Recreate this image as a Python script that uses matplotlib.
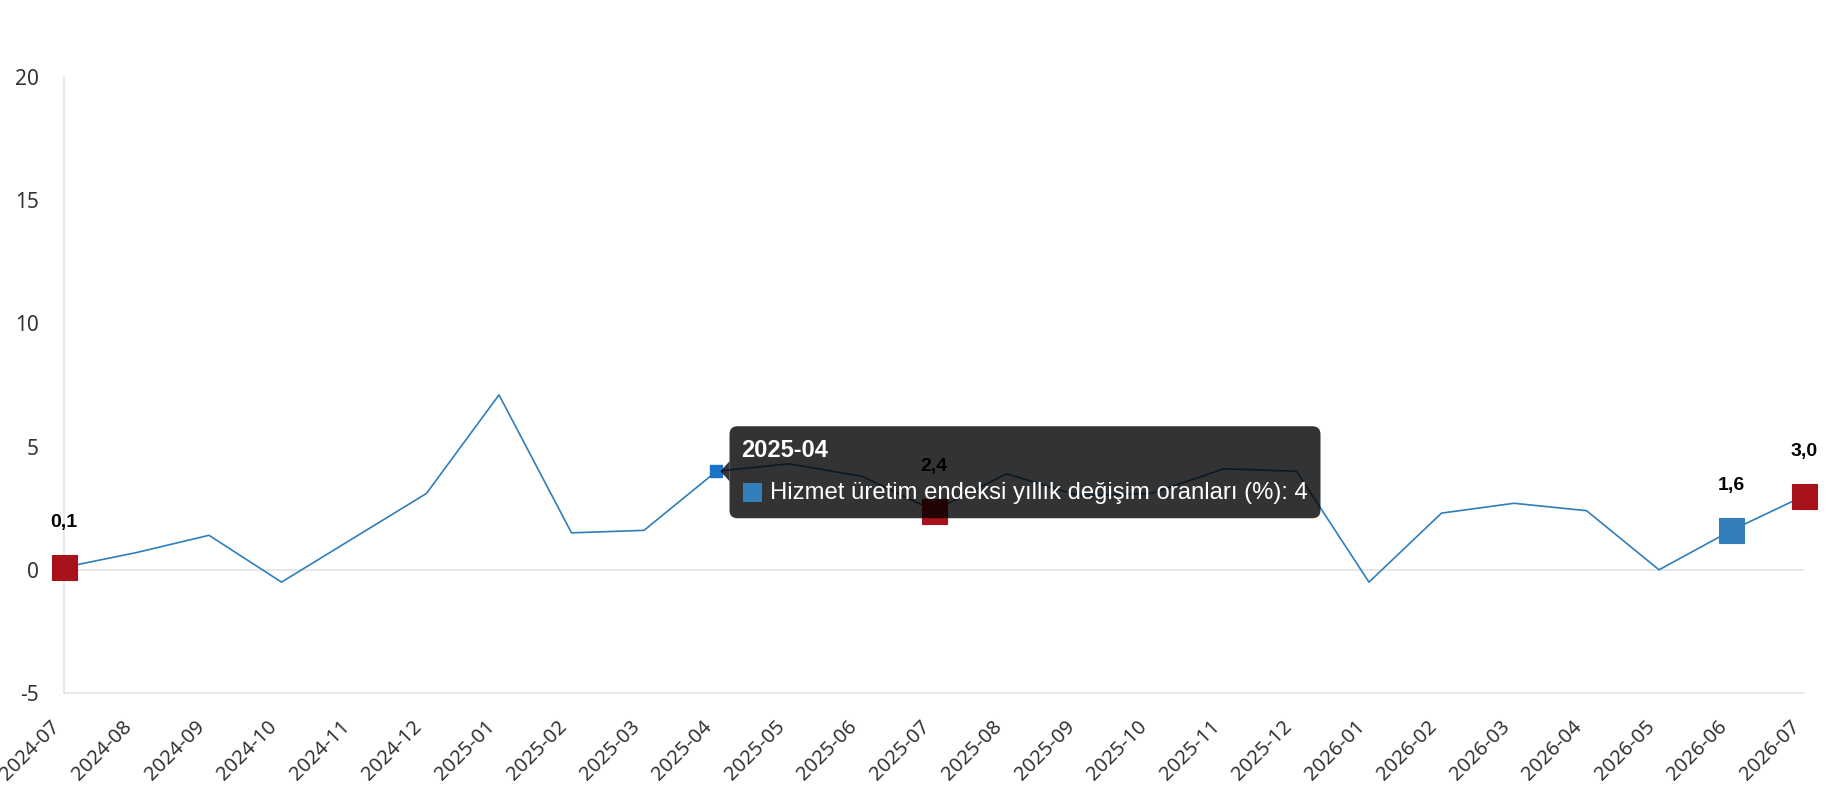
import numpy as np
import matplotlib
matplotlib.use("Agg")
from matplotlib import pyplot as plt
from matplotlib.patches import FancyBboxPatch, Polygon, Rectangle
import matplotlib.transforms as mtransforms

################################################################ data
months = ['2024-07', '2024-08', '2024-09', '2024-10', '2024-11', '2024-12',
          '2025-01', '2025-02', '2025-03', '2025-04', '2025-05', '2025-06',
          '2025-07', '2025-08', '2025-09', '2025-10', '2025-11', '2025-12',
          '2026-01', '2026-02', '2026-03', '2026-04', '2026-05', '2026-06',
          '2026-07']
values = [0.1, 0.7, 1.4, -0.5, 1.3, 3.1,
          7.1, 1.5, 1.6, 4.0, 4.3, 3.8,
          2.4, 3.9, 3.0, 3.1, 4.1, 4.0,
          -0.5, 2.3, 2.7, 2.4, 0.0, 1.6,
          3.0]
red_months = ['2024-07', '2025-07', '2026-07']
blue_months = ['2026-06']
hover_month = '2025-04'
series_name = 'Hizmet üretim endeksi yıllık değişim oranları (%)'
yticks = [-5, 0, 5, 10, 15, 20]

################################################################ figure
line_col = '#2f7ebc'
red_col = '#a8131b'
blue_col = '#337fbb'
grid_col = '#e3e3e3'

fig = plt.figure(figsize=(18.3, 8), dpi=100)
ax = fig.add_axes([64 / 1830, 1 - 693 / 800, (1804 - 64) / 1830, (693 - 77) / 800])

x = np.arange(len(months))
ax.plot(x, values, color=line_col, lw=1.2, zorder=3)

ax.set_xlim(0, len(months) - 1)
ax.set_ylim(-5, 20)
ax.axhline(0, color=grid_col, lw=1.2, zorder=1)

for s in ['top', 'right']:
    ax.spines[s].set_visible(False)
ax.spines['left'].set_color('#dfe4ea')
ax.spines['bottom'].set_color('#dfe4ea')
ax.spines['left'].set_linewidth(1.2)
ax.spines['bottom'].set_linewidth(1.2)

ax.set_yticks(yticks)
ax.set_yticklabels([str(v) for v in yticks], fontfamily='Noto Sans', fontsize=15, color='#333333')
ax.set_xticks(x)
ax.set_xticklabels(months, rotation=45, ha='right', fontfamily='Noto Sans', fontsize=14.5, color='#333333')
ax.tick_params(axis='y', length=0, pad=18)
ax.tick_params(axis='x', length=0, pad=17)

# highlighted points with labels
for mlist, col in [(red_months, red_col), (blue_months, blue_col)]:
    for m in mlist:
        i = months.index(m)
        ax.plot(x[i], values[i], marker='s', ms=18, color=col, mec=col, mew=0.8,
                zorder=5, clip_on=False)
        ax.annotate(f'{values[i]:.1f}'.replace('.', ','), (x[i], values[i]),
                    xytext=(0, 32), textcoords='offset points', ha='center', va='center',
                    fontfamily='Liberation Sans', fontweight='bold', fontsize=14,
                    color='black', zorder=20, annotation_clip=False)

# hover marker + tooltip (black, 80% opaque)
h = months.index(hover_month)
ax.plot(x[h], values[h], marker='s', ms=9, color='#1874c8', zorder=6)

tr = fig.dpi_scale_trans + mtransforms.ScaledTranslation(x[h], values[h], ax.transData)
ax.add_patch(FancyBboxPatch((0.13, -0.47), 5.91, 0.92,
                            boxstyle='round,pad=0,rounding_size=0.08',
                            transform=tr, facecolor='black', edgecolor='none',
                            alpha=0.8, zorder=10, clip_on=False))
ax.add_patch(Polygon([(0.04, 0.0), (0.13, 0.1), (0.13, -0.1)], closed=True,
                     transform=tr, facecolor='black', edgecolor='none',
                     alpha=0.8, zorder=10, clip_on=False))
ax.text(0.25, 0.14, hover_month, transform=tr, color='white',
        fontfamily='Liberation Sans', fontweight='bold', fontsize=17,
        va='baseline', ha='left', zorder=11, clip_on=False)
ax.add_patch(Rectangle((0.27, -0.31), 0.19, 0.19, transform=tr,
                       facecolor=blue_col, edgecolor='none', zorder=11, clip_on=False))
ax.text(0.54, -0.28, f'{series_name}: {values[h]:g}', transform=tr, color='white',
        fontfamily='Liberation Sans', fontsize=17.2, va='baseline', ha='left',
        zorder=11, clip_on=False)

fig.savefig('out.png', dpi=100)
